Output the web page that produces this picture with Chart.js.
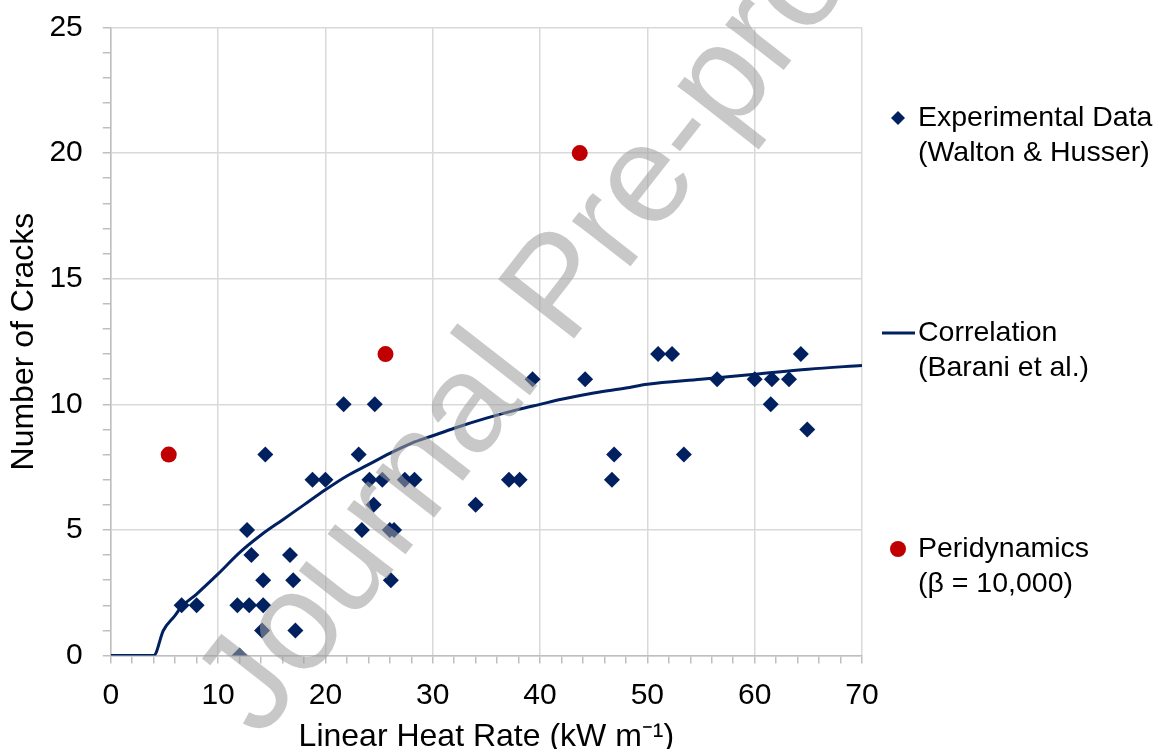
<!DOCTYPE html>
<html lang="en">
  <head>
    <meta charset="UTF-8" />
    <title>Number of Cracks vs Linear Heat Rate</title>
    <style>
      body {
        margin: 0;
        background: #fff;
      }
      .chart-box {
        width: 1161px;
        height: 749px;
      }
    </style>
  </head>
  <body>
    <div class="chart-box"><canvas id="cracksChart"></canvas></div>

    <script src="https://cdn.jsdelivr.net/npm/chart.js"></script>
    <script>
      // Experimental data (Walton & Husser)
      const expX = [6.6, 8.0, 11.8, 12.0, 12.9, 12.7, 13.1, 14.2, 14.1, 14.2, 14.4, 16.7, 17.0, 17.2, 18.8,
        20.0, 21.7, 23.1, 23.4, 24.1, 24.5, 24.6, 25.3, 26.0, 26.4, 26.1, 27.4, 28.3, 34.0, 37.1, 38.1,
        39.3, 44.2, 46.7, 46.9, 51.0, 52.3, 53.4, 56.5, 60.0, 61.5, 61.6, 63.2, 64.3, 64.9];
      const expY = [2, 2, 2, 0, 2, 5, 4, 3, 1, 2, 8, 4, 3, 1, 7,
        7, 10, 8, 5, 7, 6, 10, 7, 5, 5, 3, 7, 7, 6, 7, 7,
        11, 11, 7, 8, 12, 12, 8, 11, 11, 10, 11, 11, 12, 9];

      // Correlation (Barani et al.)
      const corrX = [0, 4.0, 4.9, 6, 6.5, 8, 10, 12, 14, 16, 18, 20, 22, 24, 26, 28, 30, 32, 35, 38,
        40, 42, 45, 48, 50, 55, 60, 65, 70];
      const corrY = [0, 0, 1.0, 1.6, 1.9, 2.45, 3.25, 4.1, 4.8, 5.4, 6.0, 6.6, 7.15, 7.6, 8.05, 8.45,
        8.75, 9.05, 9.45, 9.8, 10.0, 10.2, 10.45, 10.65, 10.8, 11.0, 11.2, 11.4, 11.55];

      // Peridynamics (beta = 10,000)
      const periX = [5.4, 25.6, 43.7];
      const periY = [8, 12, 20];

      const xTicks = [0, 10, 20, 30, 40, 50, 60, 70];
      const yTicks = [0, 5, 10, 15, 20, 25];

      const legendItems = [
        { kind: "diamond", lines: ["Experimental Data", "(Walton & Husser)"] },
        { kind: "line", lines: ["Correlation", "(Barani et al.)"] },
        { kind: "circle", lines: ["Peridynamics", "(\u03b2 = 10,000)"] },
      ];

      const navy = "#002060";
      const red = "#c00000";
      const font = '"Liberation Sans", Arial, sans-serif';

      const toPoints = (xs, ys) => xs.map((x, i) => ({ x: x, y: ys[i] }));

      // legend drawn to the right of the plot, Excel style
      const sideLegend = {
        id: "sideLegend",
        afterDraw(chart) {
          const ctx = chart.ctx;
          const rows = [118, 333, 549];
          ctx.save();
          ctx.font = "28.5px " + font;
          ctx.textBaseline = "middle";
          legendItems.forEach((item, i) => {
            const y = rows[i];
            if (item.kind === "diamond") {
              ctx.fillStyle = navy;
              ctx.beginPath();
              ctx.moveTo(891, y);
              ctx.lineTo(898, y - 7);
              ctx.lineTo(905, y);
              ctx.lineTo(898, y + 7);
              ctx.closePath();
              ctx.fill();
            } else if (item.kind === "line") {
              ctx.strokeStyle = navy;
              ctx.lineWidth = 3;
              ctx.beginPath();
              ctx.moveTo(882, y);
              ctx.lineTo(915, y);
              ctx.stroke();
            } else {
              ctx.fillStyle = red;
              ctx.beginPath();
              ctx.arc(898, y, 8, 0, Math.PI * 2);
              ctx.fill();
            }
            ctx.fillStyle = "#000";
            item.lines.forEach((t, j) => ctx.fillText(t, 918, y + j * 35));
          });
          ctx.restore();
        },
      };

      const watermark = {
        id: "watermark",
        afterDraw(chart) {
          const ctx = chart.ctx;
          ctx.save();
          ctx.translate(563, 290);
          ctx.rotate((-52 * Math.PI) / 180);
          ctx.font = "140px " + font;
          ctx.fillStyle = "rgba(158, 158, 158, 0.57)";
          ctx.textAlign = "center";
          ctx.textBaseline = "middle";
          ctx.fillText("Journal Pre-proof", 0, 0);
          ctx.restore();
        },
      };

      const gridColor = (ticks) => (c) =>
        ticks.includes(c.tick.value) ? "#d9d9d9" : "rgba(0,0,0,0)";

      new Chart(document.getElementById("cracksChart"), {
        type: "scatter",
        data: {
          datasets: [
            {
              label: "Experimental Data (Walton & Husser)",
              data: toPoints(expX, expY),
              pointStyle: "rectRot",
              pointRadius: 8,
              backgroundColor: navy,
              borderColor: navy,
              borderWidth: 0,
              order: 2,
            },
            {
              label: "Correlation (Barani et al.)",
              data: toPoints(corrX, corrY),
              showLine: true,
              pointRadius: 0,
              borderColor: navy,
              borderWidth: 3,
              cubicInterpolationMode: "monotone",
              order: 3,
            },
            {
              label: "Peridynamics (\u03b2 = 10,000)",
              data: toPoints(periX, periY),
              pointStyle: "circle",
              pointRadius: 8,
              backgroundColor: red,
              borderColor: red,
              borderWidth: 0,
              order: 1,
            },
          ],
        },
        options: {
          responsive: true,
          maintainAspectRatio: false,
          animation: false,
          layout: { padding: { top: 0, right: 299, left: 1, bottom: -7 } },
          plugins: {
            legend: { display: false },
            tooltip: { enabled: false },
          },
          scales: {
            x: {
              type: "linear",
              min: 0,
              max: 70,
              ticks: {
                stepSize: 2,
                autoSkip: false,
                maxRotation: 0,
                padding: 14,
                color: "#000",
                font: { family: font, size: 30 },
                callback: (v) => (xTicks.includes(v) ? v : ""),
              },
              grid: {
                color: gridColor(xTicks),
                tickColor: "#bfbfbf",
                tickLength: 8,
                lineWidth: 1.5,
              },
              border: { color: "#bfbfbf", width: 1.5 },
              title: {
                display: true,
                text: "Linear Heat Rate (kW m\u207b\u00b9)",
                color: "#000",
                font: { family: font, size: 32 },
                padding: { top: -10, bottom: 0 },
              },
            },
            y: {
              min: 0,
              max: 25,
              ticks: {
                stepSize: 1,
                autoSkip: false,
                padding: 20,
                color: "#000",
                font: { family: font, size: 30, lineHeight: 0.5 },
                callback: (v) => (yTicks.includes(v) ? v : ""),
              },
              grid: {
                color: gridColor(yTicks),
                tickColor: "#bfbfbf",
                tickLength: 8,
                lineWidth: 1.5,
              },
              border: { color: "#bfbfbf", width: 1.5 },
              title: {
                display: true,
                text: "Number of Cracks",
                color: "#000",
                font: { family: font, size: 32 },
                padding: { top: 4, bottom: -14 },
              },
            },
          },
        },
        plugins: [sideLegend, watermark],
      });
    </script>
  </body>
</html>
